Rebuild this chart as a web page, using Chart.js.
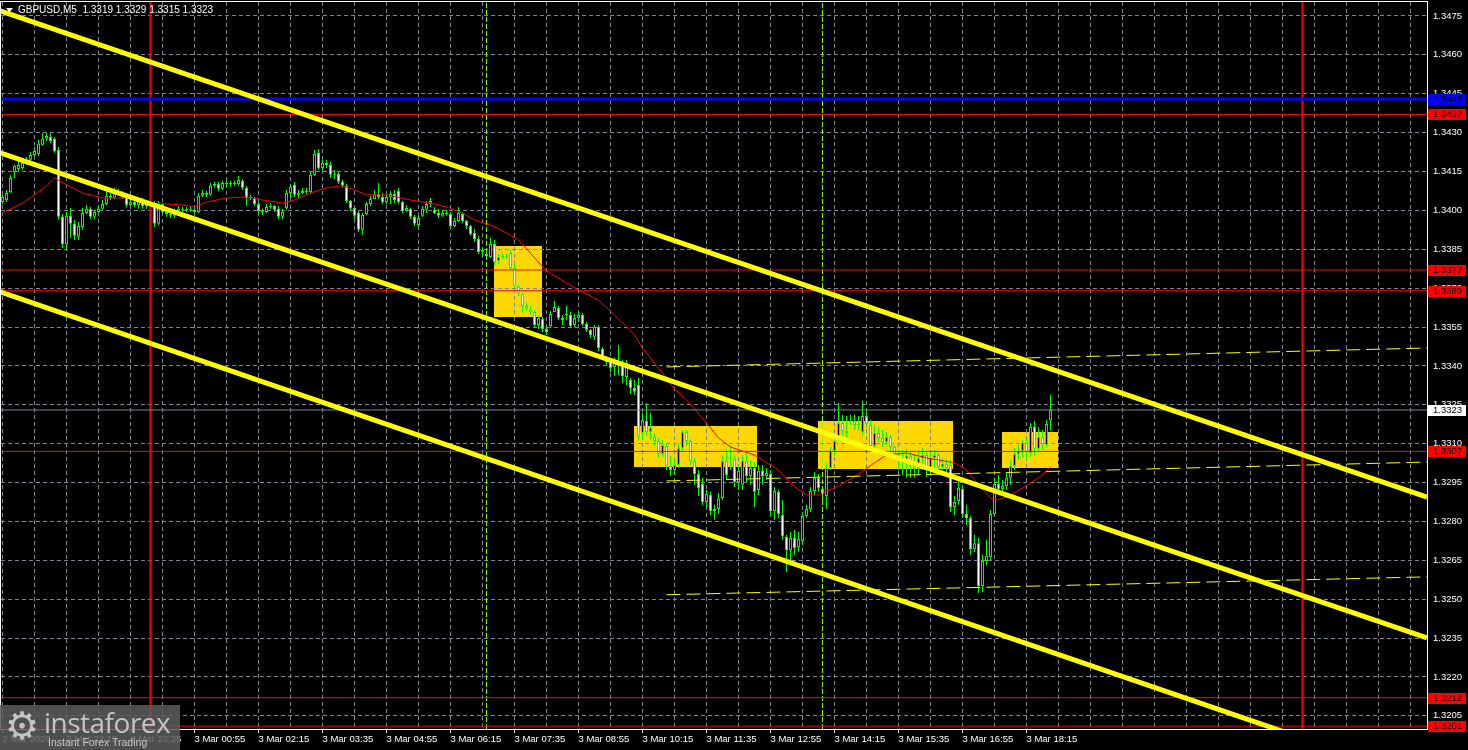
<!DOCTYPE html>
<html><head><meta charset="utf-8">
<script src="https://cdn.jsdelivr.net/npm/chart.js@4.4.1/dist/chart.umd.min.js"></script>
<style>
html,body{margin:0;padding:0;background:#000;}
#wrap{position:relative;width:1468px;height:750px;overflow:hidden;background:#000;}
#c{position:absolute;left:0;top:0;}
#logo{position:absolute;left:0;top:705px;width:180px;height:45px;background:rgba(92,92,92,0.86);}
#logo .gear{position:absolute;left:5px;top:1px;font:38px "DejaVu Sans";color:#c4c4c4;line-height:40px;}
#logo .brand{position:absolute;left:44px;top:0px;font:28px "Open Sans";color:#c4c4c4;letter-spacing:-0.5px;line-height:34px;}
#logo .tag{position:absolute;left:48px;top:31px;font:10.5px "Liberation Sans";color:#c8c8c8;line-height:12px;}
</style></head>
<body><div id="wrap"><canvas id="c" width="1468" height="750"></canvas>
<div id="logo"><span class="gear">⚙</span><span class="brand">instaforex</span><span class="tag">Instant Forex Trading</span></div></div>
<script>
// ---------- data ----------
const symbol = 'GBPUSD', timeframe = 'M5';
const opens = [
1.34032,1.34040,1.34071,1.34148,1.34160,1.34164,1.34179,1.34195,1.34214,1.34218,
1.34253,1.34276,1.34283,1.34276,1.34233,1.33975,1.33870,1.33979,1.33948,1.33898,
1.33936,1.33990,1.34006,1.33975,1.33994,1.34006,1.34025,1.34056,1.34048,1.34075,
1.34063,1.34052,1.34021,1.34032,1.34021,1.34036,1.34017,1.34025,1.34025,1.33948,
1.34025,1.33994,1.33986,1.33979,1.33998,1.34006,1.34002,1.34006,1.34002,1.33994,
1.34056,1.34067,1.34060,1.34095,1.34102,1.34083,1.34106,1.34102,1.34106,1.34102,
1.34114,1.34087,1.34048,1.34048,1.34025,1.33998,1.33994,1.34013,1.34017,1.34006,
1.33975,1.34009,1.34067,1.34099,1.34060,1.34067,1.34075,1.34071,1.34137,1.34222,
1.34164,1.34183,1.34175,1.34137,1.34141,1.34110,1.34095,1.34036,1.34009,1.33990,
1.33925,1.33986,1.34025,1.34044,1.34063,1.34052,1.34032,1.34052,1.34063,1.34075,
1.34032,1.33998,1.34006,1.33975,1.33944,1.33979,1.34002,1.34025,1.34002,1.33990,
1.33979,1.33990,1.33986,1.33940,1.33959,1.33986,1.33959,1.33940,1.33913,1.33890,
1.33839,1.33832,1.33820,1.33870,1.33805,1.33820,1.33824,1.33836,1.33778,1.33705,
1.33678,1.33631,1.33619,1.33608,1.33558,1.33581,1.33542,1.33554,1.33608,1.33623,
1.33585,1.33596,1.33596,1.33558,1.33585,1.33596,1.33562,1.33539,1.33512,1.33550,
1.33465,1.33434,1.33415,1.33396,1.33411,1.33407,1.33357,1.33346,1.33315,1.33326,
1.33141,1.33187,1.33145,1.33126,1.33110,1.33060,1.33091,1.33014,1.32998,1.33018,
1.33083,1.33145,1.33110,1.33033,1.32983,1.32944,1.32875,1.32902,1.32840,1.32848,
1.32890,1.33033,1.33041,1.33041,1.32952,1.32941,1.33033,1.32975,1.33006,1.32921,
1.32995,1.32975,1.32983,1.32840,1.32914,1.32825,1.32740,1.32690,1.32736,1.32701,
1.32724,1.32821,1.32848,1.32917,1.32968,1.32925,1.32898,1.33006,1.33072,1.33114,
1.33180,1.33149,1.33184,1.33187,1.33172,1.33145,1.33207,1.33172,1.33091,1.33141,
1.33122,1.33106,1.33126,1.33087,1.33060,1.33049,1.33026,1.33053,1.33014,1.33002,
1.33045,1.33056,1.33002,1.33045,1.33056,1.33010,1.33022,1.33018,1.32856,1.32879,
1.32925,1.32829,1.32813,1.32693,1.32716,1.32551,1.32647,1.32663,1.32829,1.32944,
1.32925,1.32937,1.32968,1.33014,1.33060,1.33072,1.33103,1.33064,1.33164,1.33080,
1.33126,1.33095,1.33190];
const highs = [
1.34060,1.34079,1.34137,1.34175,1.34195,1.34195,1.34206,1.34225,1.34245,1.34272,
1.34299,1.34299,1.34299,1.34283,1.34245,1.33986,1.33994,1.34009,1.33963,1.33955,
1.34009,1.34021,1.34013,1.34002,1.34017,1.34040,1.34091,1.34067,1.34087,1.34083,
1.34075,1.34060,1.34044,1.34040,1.34048,1.34048,1.34040,1.34044,1.34036,1.34036,
1.34028,1.34002,1.33998,1.34006,1.34017,1.34013,1.34013,1.34013,1.34013,1.34067,
1.34079,1.34075,1.34106,1.34110,1.34110,1.34114,1.34114,1.34114,1.34114,1.34133,
1.34121,1.34095,1.34060,1.34052,1.34032,1.34006,1.34025,1.34028,1.34021,1.34017,
1.34006,1.34079,1.34099,1.34110,1.34079,1.34087,1.34087,1.34148,1.34233,1.34237,
1.34195,1.34195,1.34187,1.34156,1.34148,1.34118,1.34102,1.34040,1.34013,1.33998,
1.33990,1.34032,1.34056,1.34079,1.34106,1.34067,1.34063,1.34075,1.34079,1.34087,
1.34036,1.34021,1.34009,1.33982,1.33982,1.34017,1.34036,1.34048,1.34013,1.34006,
1.34002,1.34002,1.33994,1.33971,1.34013,1.33994,1.33963,1.33944,1.33928,1.33902,
1.33859,1.33855,1.33894,1.33886,1.33832,1.33836,1.33832,1.33847,1.33797,1.33713,
1.33682,1.33646,1.33631,1.33616,1.33596,1.33589,1.33558,1.33612,1.33650,1.33631,
1.33596,1.33631,1.33608,1.33600,1.33608,1.33604,1.33569,1.33542,1.33558,1.33558,
1.33473,1.33434,1.33423,1.33431,1.33481,1.33423,1.33423,1.33353,1.33346,1.33353,
1.33219,1.33257,1.33219,1.33141,1.33122,1.33114,1.33103,1.33053,1.33037,1.33103,
1.33153,1.33153,1.33118,1.33045,1.32998,1.32968,1.32921,1.32914,1.32864,1.32910,
1.33056,1.33076,1.33095,1.33056,1.33014,1.33056,1.33068,1.33037,1.33029,1.33018,
1.33018,1.33006,1.32998,1.32933,1.32921,1.32883,1.32748,1.32759,1.32767,1.32759,
1.32836,1.32864,1.32933,1.32991,1.32983,1.32937,1.33026,1.33087,1.33122,1.33257,
1.33211,1.33207,1.33211,1.33211,1.33207,1.33265,1.33230,1.33191,1.33172,1.33164,
1.33153,1.33145,1.33133,1.33095,1.33076,1.33076,1.33076,1.33068,1.33056,1.33068,
1.33083,1.33068,1.33068,1.33076,1.33064,1.33045,1.33041,1.33037,1.32898,1.32960,
1.32941,1.32864,1.32821,1.32748,1.32736,1.32671,1.32728,1.32844,1.32968,1.32979,
1.32960,1.32991,1.33037,1.33083,1.33095,1.33114,1.33114,1.33180,1.33187,1.33164,
1.33153,1.33191,1.33290];
const lows = [
1.34025,1.34032,1.34067,1.34125,1.34152,1.34156,1.34175,1.34191,1.34210,1.34210,
1.34249,1.34268,1.34260,1.34222,1.33963,1.33855,1.33847,1.33894,1.33886,1.33886,
1.33925,1.33986,1.33967,1.33967,1.33990,1.34002,1.34021,1.34040,1.34044,1.34056,
1.34044,1.34013,1.34017,1.34013,1.34006,1.34006,1.34006,1.34013,1.33936,1.33944,
1.33986,1.33975,1.33971,1.33971,1.33990,1.33994,1.33994,1.33994,1.33986,1.33990,
1.34052,1.34052,1.34056,1.34087,1.34075,1.34079,1.34091,1.34091,1.34095,1.34095,
1.34079,1.34017,1.34040,1.34017,1.33990,1.33982,1.33990,1.34006,1.33994,1.33967,
1.33967,1.34002,1.34048,1.34052,1.34048,1.34063,1.34063,1.34063,1.34133,1.34156,
1.34156,1.34164,1.34125,1.34121,1.34102,1.34087,1.34028,1.33998,1.33967,1.33917,
1.33906,1.33982,1.34017,1.34044,1.34044,1.34025,1.34025,1.34025,1.34028,1.34025,
1.33990,1.33994,1.33967,1.33940,1.33936,1.33975,1.33990,1.34013,1.33986,1.33971,
1.33975,1.33979,1.33932,1.33936,1.33955,1.33952,1.33928,1.33902,1.33878,1.33832,
1.33824,1.33816,1.33816,1.33789,1.33793,1.33812,1.33812,1.33770,1.33701,1.33670,
1.33604,1.33612,1.33596,1.33546,1.33542,1.33531,1.33519,1.33550,1.33608,1.33577,
1.33558,1.33577,1.33546,1.33550,1.33569,1.33554,1.33531,1.33508,1.33500,1.33457,
1.33423,1.33404,1.33376,1.33361,1.33365,1.33334,1.33326,1.33292,1.33288,1.33114,
1.33114,1.33130,1.33114,1.33091,1.33045,1.33049,1.32998,1.32975,1.32979,1.33006,
1.33068,1.33091,1.33018,1.32941,1.32898,1.32864,1.32856,1.32825,1.32806,1.32829,
1.32883,1.32960,1.32998,1.32933,1.32921,1.32921,1.32952,1.32941,1.32856,1.32902,
1.32941,1.32960,1.32825,1.32806,1.32813,1.32728,1.32605,1.32632,1.32671,1.32682,
1.32709,1.32813,1.32836,1.32902,1.32914,1.32883,1.32848,1.32998,1.33053,1.33110,
1.33130,1.33114,1.33172,1.33153,1.33153,1.33130,1.33161,1.33076,1.33076,1.33106,
1.33087,1.33095,1.33068,1.33037,1.32998,1.32979,1.32968,1.32968,1.32968,1.32979,
1.32998,1.32971,1.32975,1.32987,1.32991,1.32998,1.32979,1.32836,1.32825,1.32864,
1.32813,1.32786,1.32671,1.32682,1.32524,1.32528,1.32632,1.32651,1.32821,1.32902,
1.32898,1.32921,1.32941,1.32998,1.33037,1.33045,1.33037,1.33049,1.33053,1.33068,
1.33076,1.33087,1.33150];
const closes = [
1.34052,1.34067,1.34125,1.34172,1.34175,1.34183,1.34195,1.34214,1.34229,1.34257,
1.34276,1.34287,1.34268,1.34229,1.33975,1.33870,1.33979,1.33948,1.33902,1.33940,
1.33990,1.34006,1.33975,1.33994,1.34006,1.34025,1.34056,1.34048,1.34075,1.34063,
1.34056,1.34021,1.34032,1.34021,1.34036,1.34017,1.34025,1.34028,1.33948,1.34025,
1.33994,1.33986,1.33979,1.33998,1.34006,1.34002,1.34006,1.34002,1.33994,1.34056,
1.34067,1.34060,1.34095,1.34102,1.34083,1.34106,1.34102,1.34106,1.34102,1.34118,
1.34087,1.34048,1.34052,1.34025,1.33998,1.33994,1.34013,1.34017,1.34002,1.33975,
1.33994,1.34067,1.34091,1.34060,1.34067,1.34075,1.34071,1.34137,1.34218,1.34164,
1.34183,1.34175,1.34137,1.34141,1.34110,1.34095,1.34036,1.34009,1.33979,1.33925,
1.33982,1.34025,1.34044,1.34063,1.34052,1.34032,1.34052,1.34063,1.34040,1.34032,
1.33998,1.34009,1.33975,1.33948,1.33971,1.34006,1.34025,1.34036,1.33990,1.33979,
1.33990,1.33986,1.33940,1.33959,1.33990,1.33959,1.33940,1.33909,1.33890,1.33839,
1.33847,1.33824,1.33870,1.33801,1.33820,1.33824,1.33820,1.33778,1.33709,1.33682,
1.33631,1.33619,1.33608,1.33558,1.33585,1.33542,1.33531,1.33600,1.33627,1.33585,
1.33577,1.33600,1.33554,1.33585,1.33596,1.33562,1.33539,1.33519,1.33550,1.33469,
1.33438,1.33415,1.33392,1.33411,1.33404,1.33361,1.33411,1.33315,1.33300,1.33130,
1.33191,1.33145,1.33161,1.33110,1.33060,1.33095,1.33014,1.32998,1.33018,1.33083,
1.33145,1.33110,1.33033,1.32983,1.32929,1.32875,1.32906,1.32840,1.32848,1.32887,
1.33033,1.32979,1.33045,1.32952,1.32995,1.33033,1.32975,1.33006,1.32914,1.32995,
1.32975,1.32987,1.32840,1.32917,1.32829,1.32744,1.32690,1.32736,1.32697,1.32732,
1.32821,1.32848,1.32917,1.32968,1.32929,1.32906,1.33006,1.33072,1.33110,1.33180,
1.33149,1.33141,1.33187,1.33172,1.33176,1.33207,1.33176,1.33091,1.33141,1.33122,
1.33106,1.33126,1.33087,1.33060,1.33049,1.33026,1.33053,1.33014,1.33002,1.33045,
1.33056,1.33002,1.33045,1.33056,1.33010,1.33022,1.33006,1.32856,1.32875,1.32929,
1.32829,1.32813,1.32693,1.32716,1.32551,1.32647,1.32667,1.32829,1.32944,1.32925,
1.32937,1.32968,1.33014,1.33060,1.33072,1.33103,1.33068,1.33164,1.33080,1.33126,
1.33099,1.33176,1.33230];

// moving average (bar index, price)
const maIdx = [0,5,9,11,13,16,20,25,32,37,45,48,51,56,61,65,70,73,77,81,85,88,91,96,102,107,111,115,118,122,125,129,136,144,149,153,158,160,164,168,171,176,179,182,188,190,194,198,201,204,208,213,218,221,226,231,234,238,241,244,247,249,252,255,259,262];
const maVal = [1.33990,1.34028,1.34071,1.34095,1.34125,1.34099,1.34067,1.34048,1.34048,1.34028,1.34021,1.34013,1.34032,1.34048,1.34052,1.34040,1.34028,1.34040,1.34067,1.34087,1.34095,1.34079,1.34060,1.34060,1.34040,1.34028,1.34013,1.33990,1.33963,1.33944,1.33921,1.33886,1.33766,1.33693,1.33654,1.33596,1.33519,1.33469,1.33392,1.33311,1.33269,1.33180,1.33122,1.33087,1.33056,1.33037,1.32998,1.32933,1.32902,1.32902,1.32929,1.32972,1.33026,1.33056,1.33064,1.33045,1.33037,1.33026,1.32998,1.32941,1.32890,1.32883,1.32902,1.32929,1.32968,1.33010];

// axis tick labels
const yTicks = [1.3205,1.3220,1.3235,1.3250,1.3265,1.3280,1.3295,1.3310,1.3325,1.3340,1.3355,1.3370,1.3385,1.3400,1.3415,1.3430,1.3445,1.3460,1.3475];
const xTickIdx = [0,16,32,48,64,80,96,112,128,144,160,176,192,208,224,240,256];
const xTickLabels = ['2 Mar 2026','2 Mar 22:15','2 Mar 23:35','3 Mar 00:55','3 Mar 02:15','3 Mar 03:35','3 Mar 04:55','3 Mar 06:15','3 Mar 07:35','3 Mar 08:55','3 Mar 10:15','3 Mar 11:35','3 Mar 12:55','3 Mar 14:15','3 Mar 15:35','3 Mar 16:55','3 Mar 18:15'];

// levels
const redLevels = [1.3437,1.3377,1.3369,1.3307,1.3212,1.3201];
const blueLevels = [1.3443];
const bidLevel = 1.3323;

// trend channel (bar index, price) start/end
const chanX0 = [-0.625,-0.625,-0.625];
const chanY0 = [1.34770,1.34222,1.33686];
const chanX1 = [356.125,356.125,356.125];
const chanY1 = [1.32894,1.32351,1.31799];
// dashed levels
const dashX0 = [166,166,166];
const dashY0 = [1.33396,1.32956,1.32517];
const dashX1 = [356.125,356.125,356.125];
const dashY1 = [1.33469,1.33029,1.32586];
// day separators and session lines (bar index)
const daySeps = [37,325];
const sessionLines = [121,205];
// rectangles
const boxX0 = [122.9,157.9,203.9,249.9];
const boxX1 = [134.9,188.6,237.6,263.9];
const boxTop = [1.33863,1.33168,1.33187,1.33145];
const boxBot = [1.33589,1.33010,1.33002,1.33006];

// ---------- chart ----------
const X_MIN = -0.375, X_MAX = 356.125, Y_MIN = 1.31999, Y_MAX = 1.34804;
const FONT = '"Liberation Sans", Arial, sans-serif';
Chart.defaults.font.family = FONT;
Chart.defaults.font.size = 9.5;

const bull = [], bear = [], wicks = [];
for (let i = 0; i < closes.length; i++) {
  const d = {x: i, y: [opens[i], closes[i]]};
  (closes[i] >= opens[i] ? bull : bear).push(d);
  wicks.push({x: i, y: [lows[i], highs[i]]});
}
const lineDs = (pts, color, width, order, dash) => ({
  type: 'line', data: pts, borderColor: color, borderWidth: width, borderDash: dash || [],
  pointRadius: 0, pointHitRadius: 0, fill: false, tension: 0, order: order, clip: 0, spanGaps: true
});
const datasets = [];
for (let k = 0; k < chanX0.length; k++)
  datasets.push(lineDs([{x: chanX0[k], y: chanY0[k]}, {x: chanX1[k], y: chanY1[k]}], '#ffff00', 5, 0));
for (let k = 0; k < dashX0.length; k++)
  datasets.push(lineDs([{x: dashX0[k], y: dashY0[k]}, {x: dashX1[k], y: dashY1[k]}], '#ffff00', 1, 1, [14, 6]));
redLevels.forEach(v => datasets.push(lineDs([{x: X_MIN, y: v}, {x: X_MAX, y: v}], '#ff0000', 1, 2)));
blueLevels.forEach(v => datasets.push(lineDs([{x: X_MIN, y: v}, {x: X_MAX, y: v}], '#0000ff', 3, 2)));
datasets.push(lineDs([{x: X_MIN, y: bidLevel}, {x: X_MAX, y: bidLevel}], '#778899', 1, 2));
daySeps.forEach(v => datasets.push(lineDs([{x: v, y: Y_MIN}, {x: v, y: Y_MAX}], '#ff0000', 2, 2)));
sessionLines.forEach(v => datasets.push(lineDs([{x: v, y: Y_MIN}, {x: v, y: Y_MAX}], '#7cfc00', 1, 2, [5, 2])));
datasets.push(lineDs(maIdx.map((v, k) => ({x: v, y: maVal[k]})), '#ff0000', 1, 3));
datasets.push({type: 'bar', data: bull, backgroundColor: '#000000', borderColor: '#00ff00', borderWidth: 1,
  borderSkipped: false, barThickness: 3, grouped: false, minBarLength: 1, inflateAmount: 0, order: 4});
datasets.push({type: 'bar', data: bear, backgroundColor: '#ffffff', borderColor: '#00ff00', borderWidth: 1,
  borderSkipped: false, barThickness: 3, grouped: false, minBarLength: 1, inflateAmount: 0, order: 4});
datasets.push({type: 'bar', data: wicks, backgroundColor: '#00ff00', borderWidth: 0,
  barThickness: 1, grouped: false, minBarLength: 1, inflateAmount: 0, order: 5});

const overlay = {
  id: 'overlay',
  beforeDraw(chart) {
    const {ctx, scales: {x, y}} = chart;
    ctx.save();
    ctx.fillStyle = '#000';
    ctx.fillRect(0, 0, chart.width, chart.height);
    ctx.fillStyle = '#ffd700';
    for (let k = 0; k < boxX0.length; k++) {
      const x0 = Math.round(x.getPixelForValue(boxX0[k])), x1 = Math.round(x.getPixelForValue(boxX1[k]));
      const y0 = Math.round(y.getPixelForValue(boxTop[k])), y1 = Math.round(y.getPixelForValue(boxBot[k]));
      ctx.fillRect(x0, y0, x1 - x0, y1 - y0);
    }
    ctx.restore();
  },
  afterDraw(chart) {
    const {ctx, chartArea: a, scales: {y}} = chart;
    ctx.save();
    ctx.strokeStyle = '#ffffff';
    ctx.lineWidth = 1;
    ctx.strokeRect(a.left - 0.5, a.top - 0.5, a.right - a.left + 1, a.bottom - a.top + 1);
    ctx.font = '9.5px ' + FONT;
    ctx.textBaseline = 'middle';
    ctx.textAlign = 'left';
    const tag = (v, bg, fg) => {
      const yy = Math.round(y.getPixelForValue(v));
      ctx.fillStyle = bg;
      ctx.fillRect(a.right + 1, yy - 5, 38, 11);
      ctx.fillStyle = fg;
      ctx.fillText(v.toFixed(4), a.right + 6, yy + 0.5);
    };
    redLevels.forEach(v => tag(v, '#ff0000', '#000000'));
    blueLevels.forEach(v => tag(v, '#0000ff', '#000000'));
    tag(bidLevel, '#ffffff', '#000000');
    // header
    const n = closes.length - 1;
    ctx.fillStyle = '#ffffff';
    ctx.beginPath();
    ctx.moveTo(6, 8); ctx.lineTo(13, 8); ctx.lineTo(9.5, 12.5); ctx.closePath(); ctx.fill();
    ctx.font = '10px ' + FONT;
    ctx.fillText(symbol + ',' + timeframe + '  ' + [opens[n], highs[n], lows[n], closes[n]].map(v => v.toFixed(4)).join(' '), 18, 10);
    ctx.restore();
  }
};

const gridColor = '#7d8794';
new Chart(document.getElementById('c'), {
  type: 'bar',
  data: {datasets},
  options: {
    responsive: false, animation: false, devicePixelRatio: 1, events: [],
    layout: {padding: {left: 1, top: 2, right: 0, bottom: 0}},
    plugins: {legend: {display: false}, tooltip: {enabled: false}},
    scales: {
      x: {
        type: 'linear', position: 'bottom', min: X_MIN, max: X_MAX, offset: false,
        grid: {color: gridColor, offset: false, drawTicks: true, tickLength: 4,
          tickColor: c => (xTickIdx.includes(c.tick && c.tick.value) ? '#ffffff' : 'rgba(0,0,0,0)')},
        border: {display: false, dash: [4, 3]},
        ticks: {color: '#ffffff', autoSkip: false, maxRotation: 0, minRotation: 0, align: 'start', padding: 1,
          callback: v => { const k = xTickIdx.indexOf(v); return k >= 0 ? xTickLabels[k] : ''; }},
        afterBuildTicks: s => { const t = []; for (let v = 0; v <= X_MAX; v += 8) t.push({value: v}); s.ticks = t; },
        afterFit: s => { s.height = 21; s.paddingLeft = 0; s.paddingRight = 0; }
      },
      y: {
        type: 'linear', position: 'right', min: Y_MIN, max: Y_MAX,
        grid: {color: gridColor, drawTicks: false},
        border: {display: false, dash: [4, 3]},
        ticks: {color: '#ffffff', autoSkip: false, padding: 6, callback: v => Number(v).toFixed(4)},
        afterBuildTicks: s => { s.ticks = yTicks.map(v => ({value: v})); },
        afterFit: s => { s.width = 41; s.paddingTop = 0; s.paddingBottom = 0; }
      }
    }
  },
  plugins: [overlay]
});
</script>
</body></html>
